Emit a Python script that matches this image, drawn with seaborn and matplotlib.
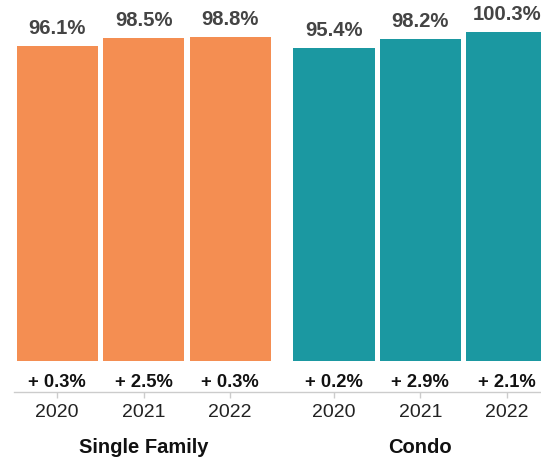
import matplotlib
matplotlib.use("Agg")
import matplotlib.pyplot as plt
import pandas as pd
import seaborn as sns

# Sale-to-list price ratio by property type and year
groups = ["Single Family", "Condo"]
years = ["2020", "2021", "2022"]
single_family = [96.1, 98.5, 98.8]
condo = [95.4, 98.2, 100.3]
sf_change = ["+ 0.3%", "+ 2.5%", "+ 0.3%"]
condo_change = ["+ 0.2%", "+ 2.9%", "+ 2.1%"]

colors = {"Single Family": "#F48E52", "Condo": "#1B98A1"}

sns.set_theme(style="white")
plt.rcParams["font.family"] = ["Liberation Sans", "DejaVu Sans"]

df = pd.DataFrame({
    "type": [groups[0]] * 3 + [groups[1]] * 3,
    "year": years * 2,
    "value": single_family + condo,
    "change": sf_change + condo_change,
})

fig = plt.figure(figsize=(5.41, 4.58), dpi=100)
ax = fig.add_axes([14 / 541, 66 / 458, 1 - 14 / 541, 392 / 458])

for g in groups:
    sub = df[df["type"] == g]
    sns.barplot(
        data=sub, x="type", y="value", hue="year",
        order=groups, hue_order=years,
        palette=[colors[g]] * len(years), saturation=1,
        width=0.938, gap=0.058, errorbar=None, legend=False,
        linewidth=0, ax=ax,
    )

ax.set_xlim(-0.469, 1.436)
ax.set_ylim(-9.44, 109.96)

# bar centres taken from the drawn patches, in plotting order
bars = sorted([p for p in ax.patches if p.get_height() > 0],
              key=lambda p: p.get_x())
centers = [p.get_x() + p.get_width() / 2 for p in bars]
values = df["value"].tolist()
changes = df["change"].tolist()

for x, v, c in zip(centers, values, changes):
    ax.annotate(f"{v:.1f}%", xy=(x, v), xytext=(0, 8.5),
                textcoords="offset points", ha="center", va="baseline",
                fontsize=14.6, fontweight="bold", color="#444444")
    ax.annotate(c, xy=(x, 0), xytext=(0, -18.7),
                textcoords="offset points", ha="center", va="baseline",
                fontsize=13.2, fontweight="bold", color="#111111")

ax.set_xticks(centers)
ax.set_xticklabels(df["year"].tolist())
ax.set_xlabel("")
ax.set_ylabel("")
ax.set_yticks([])
ax.tick_params(axis="x", length=4.5, width=1, color="#cccccc",
               pad=4, labelsize=14, labelcolor="#222222", bottom=True)

for g_i, g in enumerate(groups):
    ax.annotate(g, xy=(g_i, 0), xycoords=("data", "axes fraction"),
                xytext=(0, -44), textcoords="offset points",
                ha="center", va="baseline", fontsize=14.5,
                fontweight="bold", color="#111111", annotation_clip=False)

for side in ["left", "right", "top"]:
    ax.spines[side].set_visible(False)
ax.spines["bottom"].set_color("#cccccc")
ax.spines["bottom"].set_linewidth(1.0)

fig.savefig("out.png", dpi=100)
